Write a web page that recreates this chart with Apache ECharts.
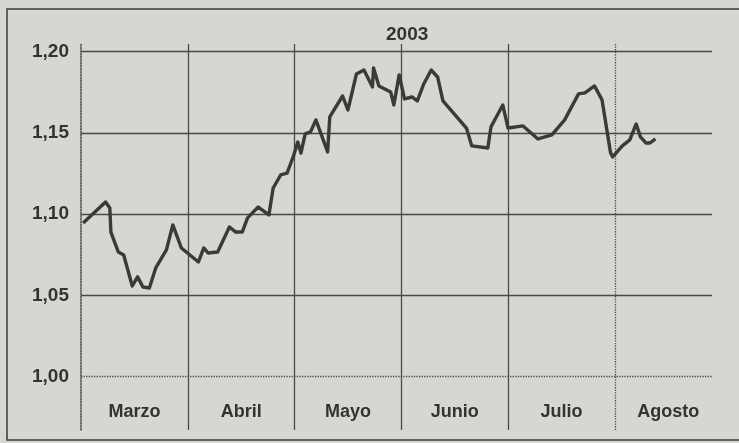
<!DOCTYPE html>
<html lang="es">
  <head>
    <meta charset="UTF-8" />
    <title>2003</title>
    <style>
      html, body { margin: 0; padding: 0; background: #d6d6d2; }
      #chart { width: 739px; height: 443px; }
    </style>
  </head>
  <body>
    <div id="chart"></div>
    <script src="https://cdn.jsdelivr.net/npm/echarts@6/dist/echarts.min.js"></script>
    <script>
      // month labels, one per band (x = month index from 1 March)
      var months = ["Marzo", "Abril", "Mayo", "Junio", "Julio", "Agosto"];
      // y gridlines / labels
      var yTicks = [1.2, 1.15, 1.1, 1.05, 1.0];
      // series: position in months from 1 March, value
      var xPos = [
        0.02, 0.23, 0.27, 0.28, 0.35, 0.4, 0.48, 0.53, 0.58, 0.64, 0.7, 0.8, 0.86, 0.94,
        1.1, 1.15, 1.19, 1.28, 1.39, 1.45, 1.51, 1.56, 1.66, 1.76, 1.8, 1.87, 1.93, 1.99,
        2.03, 2.06, 2.1, 2.15, 2.2, 2.31, 2.33, 2.45, 2.5, 2.58, 2.65, 2.73, 2.74, 2.79, 2.9, 2.93, 2.98,
        3.03, 3.1, 3.15, 3.21, 3.28, 3.34, 3.39, 3.61, 3.66, 3.81, 3.84, 3.9, 3.95,
        4.0, 4.14, 4.28, 4.41, 4.53, 4.66, 4.72, 4.81, 4.88, 4.96, 4.98,
        5.07, 5.14, 5.2, 5.24, 5.29, 5.33, 5.38
      ];
      var values = [
        1.0946, 1.1075, 1.1038, 1.089, 1.0767, 1.0749, 1.0558, 1.0614, 1.0552, 1.0546, 1.0669, 1.078, 1.0934, 1.0792,
        1.0706, 1.0792, 1.0761, 1.0767, 1.0921, 1.089, 1.089, 1.0977, 1.1044, 1.0995, 1.1161, 1.1241, 1.1253, 1.1358,
        1.1444, 1.1376, 1.1494, 1.1506, 1.158, 1.1383, 1.1598, 1.1727, 1.1641, 1.1863, 1.1887, 1.1783, 1.19, 1.1789, 1.1752, 1.1672, 1.1857,
        1.1709, 1.1721, 1.1697, 1.1801, 1.1887, 1.1844, 1.1697, 1.153, 1.142, 1.1407, 1.1537, 1.161, 1.1672,
        1.153, 1.1543, 1.1463, 1.1488, 1.158, 1.174, 1.1746, 1.1789, 1.1703, 1.1377, 1.1352,
        1.142, 1.1457, 1.1555, 1.1475, 1.1438, 1.1438, 1.1463
      ];

      var ink = "#3b3a38";
      var gridInk = "#4a4947";
      var font = "'Liberation Sans', Arial, sans-serif";

      var lineData = xPos.map(function (x, i) { return [x, values[i]]; });

      // gridlines: horizontal with labels, vertical at month starts
      var gridLines = yTicks.map(function (v) {
        return {
          yAxis: v,
          lineStyle: { type: v === 1.0 ? "dotted" : "solid" },
          label: {
            show: true,
            position: "start",
            distance: 12,
            formatter: v.toFixed(2).replace(".", ","),
          },
        };
      });
      months.forEach(function (m, i) {
        if (i === 0) return;
        gridLines.push({
          xAxis: i,
          lineStyle: { type: i === months.length - 1 ? "dotted" : "solid" },
          label: { show: false },
        });
      });

      var chart = echarts.init(document.getElementById("chart"));
      chart.setOption({
        backgroundColor: "#d6d6d2",
        animation: false,
        title: {
          text: "2003",
          left: 381,
          top: 20,
          textStyle: { fontFamily: font, fontWeight: "bold", fontSize: 19, color: "#333" },
        },
        graphic: [
          {
            type: "rect",
            shape: { x: 7, y: 9, width: 745, height: 431 },
            style: { fill: "none", stroke: "#3a3a3a", lineWidth: 1.5 },
            silent: true,
          },
        ],
        grid: { left: 81, right: 27, top: 44, bottom: 13 },
        xAxis: {
          type: "value",
          min: 0,
          max: 5.91,
          interval: 0.5,
          axisLine: { show: false },
          axisTick: { show: false },
          splitLine: { show: false },
          axisLabel: {
            inside: true,
            margin: 9,
            fontFamily: font,
            fontWeight: "bold",
            fontSize: 18,
            color: "#333",
            showMaxLabel: false,
            formatter: function (v) {
              var k = Math.round(v * 2);
              return k % 2 === 1 ? months[(k - 1) / 2] : "";
            },
          },
        },
        yAxis: {
          type: "value",
          min: 0.9672,
          max: 1.2047,
          axisLine: { show: true, lineStyle: { color: gridInk, type: "dotted", width: 1.5 } },
          axisTick: { show: false },
          axisLabel: { show: false },
          splitLine: { show: false },
        },
        series: [
          {
            type: "line",
            data: lineData,
            symbol: "none",
            lineStyle: { color: ink, width: 3.4, join: "round" },
            z: 5,
            markLine: {
              silent: true,
              symbol: "none",
              animation: false,
              lineStyle: { color: gridInk, width: 1.3 },
              label: {
                fontFamily: font,
                fontWeight: "bold",
                fontSize: 19,
                color: "#333",
              },
              data: gridLines,
            },
          },
        ],
      });
    </script>
  </body>
</html>
